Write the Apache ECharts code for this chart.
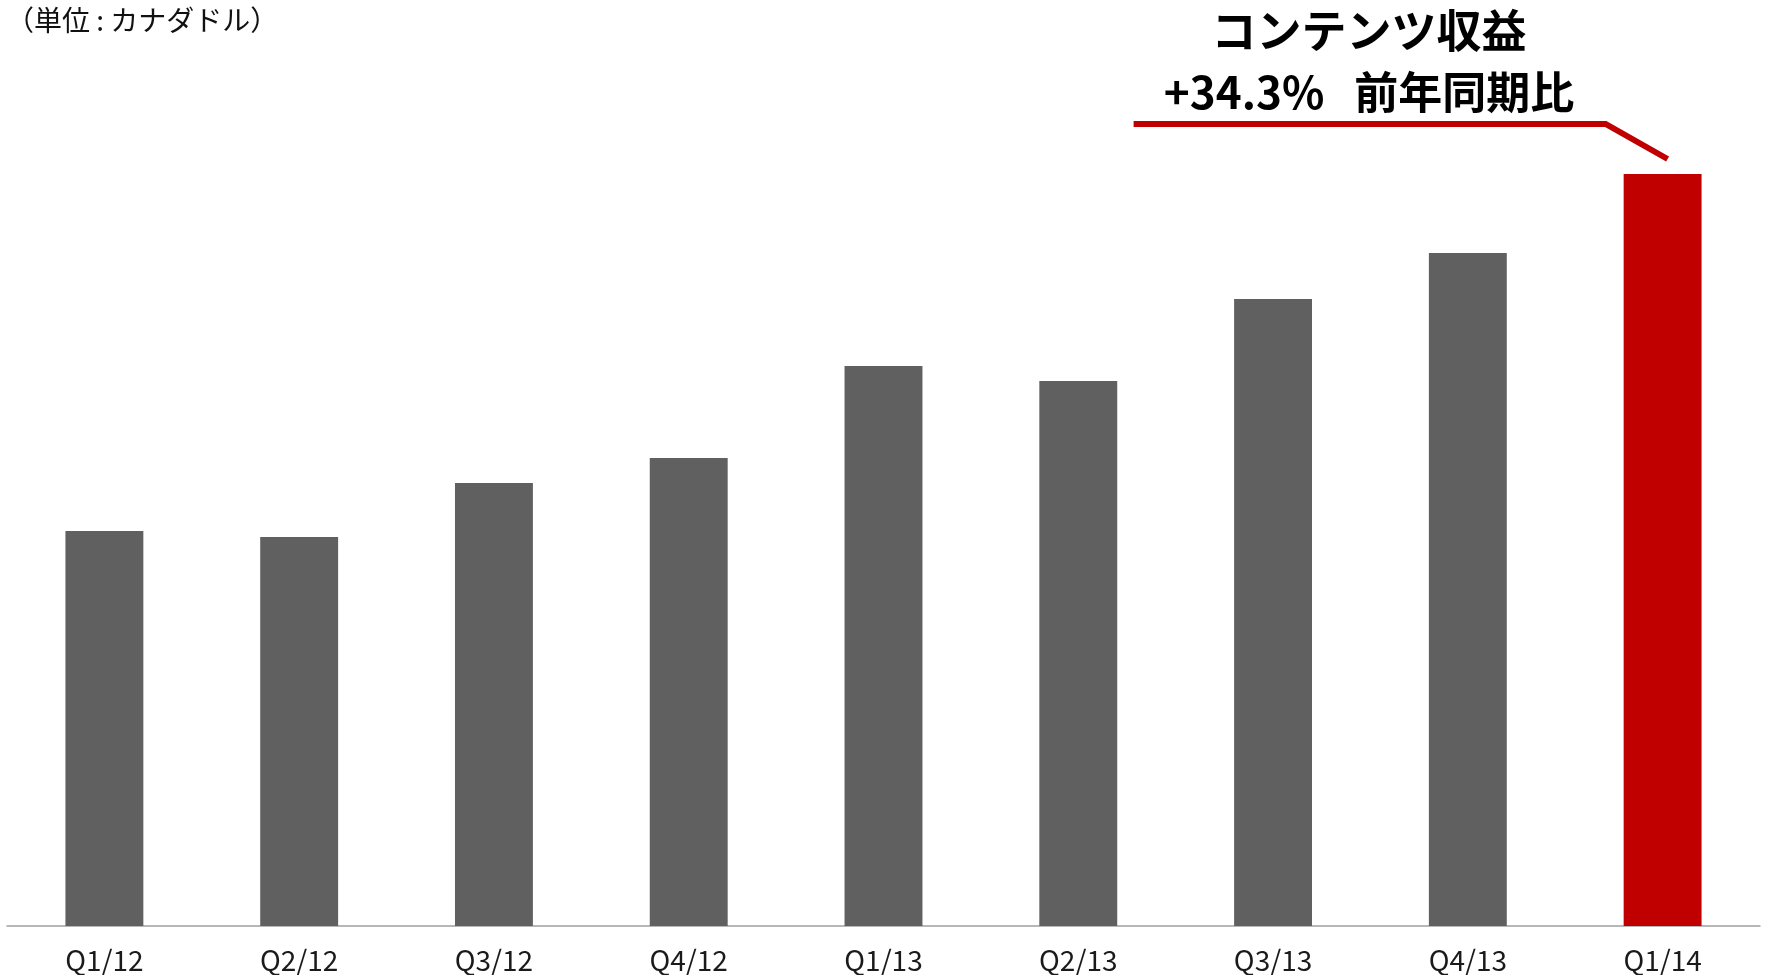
<!DOCTYPE html>
<html>
<head>
<meta charset="utf-8">
<script src="https://cdn.jsdelivr.net/npm/echarts@6/dist/echarts.min.js"></script>
<style>
  html, body { margin: 0; padding: 0; background: #ffffff; }
  #chart { width: 1767px; height: 975px; }
</style>
</head>
<body>
<div id="chart"></div>
<script>
// Quarterly content revenue (relative units, Canadian dollars)
const quarters = ['Q1/12', 'Q2/12', 'Q3/12', 'Q4/12', 'Q1/13', 'Q2/13', 'Q3/13', 'Q4/13', 'Q1/14'];
const revenue = [39.5, 38.9, 44.3, 46.8, 56.0, 54.5, 62.7, 67.3, 75.2];
const highlightIndex = 8;

const unitLabel = '（単位 : カナダドル）';
const calloutTitle = 'コンテンツ収益';
const calloutGrowth = '+34.3%   前年同期比';

const GRAY = '#606060';
const RED = '#C00000';
const JP_FONT = '"Noto Sans CJK JP", "Noto Sans", sans-serif';

const chart = echarts.init(document.getElementById('chart'), null, { renderer: 'canvas' });

const option = {
  animation: false,
  backgroundColor: '#ffffff',
  grid: { left: 7, right: 7, top: 26, bottom: 49, containLabel: false },
  xAxis: {
    type: 'category',
    data: quarters,
    axisTick: { show: false },
    axisLine: { show: true, lineStyle: { color: '#a0a0a0', width: 1.5 } },
    axisLabel: {
      color: '#1a1a1a',
      fontFamily: JP_FONT,
      fontSize: 28,
      margin: 20
    }
  },
  yAxis: {
    type: 'value',
    min: 0,
    max: 90,
    show: false,
    splitLine: { show: false }
  },
  series: [{
    type: 'bar',
    barWidth: '40%',
    data: revenue.map((v, i) => ({
      value: v,
      itemStyle: { color: i === highlightIndex ? RED : GRAY }
    }))
  }]
};

chart.setOption(option);

// Callout above the highlighted bar: a red leader line pointing at the bar top,
// with the headline text sitting above it.
function drawCallout() {
  const top = chart.convertToPixel({ seriesIndex: 0 }, [highlightIndex, revenue[highlightIndex]]);
  const tipX = top[0] + 5;
  const tipY = top[1] - 15;
  const elbowX = tipX - 62;
  const elbowY = tipY - 35;
  const startX = elbowX - 472;
  const textCx = 1369;

  chart.setOption({
    graphic: [
      {
        type: 'text',
        left: 6,
        top: 6,
        style: {
          text: unitLabel,
          font: '28px ' + JP_FONT,
          fill: '#111111'
        }
      },
      {
        type: 'text',
        x: textCx,
        y: 31,
        style: {
          text: calloutTitle,
          font: 'bold 45px ' + JP_FONT,
          fill: '#000000',
          align: 'center',
          verticalAlign: 'middle'
        }
      },
      {
        type: 'text',
        x: textCx,
        y: 92,
        style: {
          text: calloutGrowth,
          font: 'bold 44px ' + JP_FONT,
          fill: '#000000',
          align: 'center',
          verticalAlign: 'middle'
        }
      },
      {
        type: 'polyline',
        shape: { points: [[startX, elbowY], [elbowX, elbowY], [tipX, tipY]] },
        style: { stroke: RED, lineWidth: 6, fill: null, lineJoin: 'miter' }
      }
    ]
  });
}

drawCallout();
</script>
</body>
</html>
